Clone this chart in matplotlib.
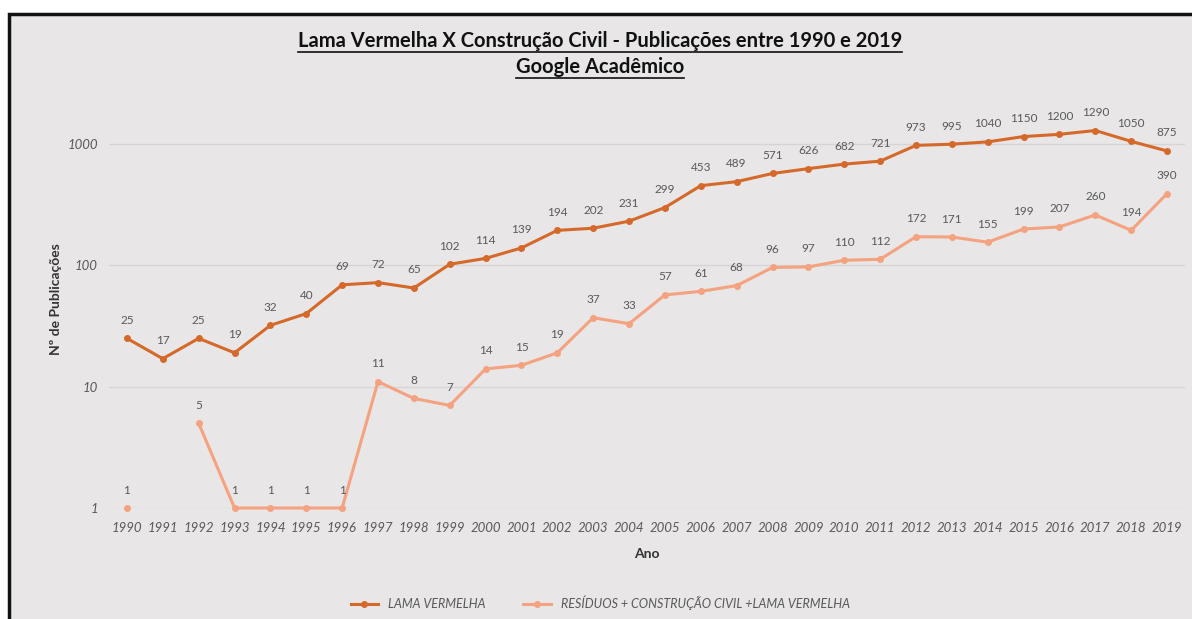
import numpy as np
import matplotlib
matplotlib.use("Agg")
import matplotlib.pyplot as plt
from matplotlib.lines import Line2D
from matplotlib.patches import Rectangle

anos = list(range(1990, 2020))
lama_vermelha = [25, 17, 25, 19, 32, 40, 69, 72, 65, 102, 114, 139, 194, 202, 231,
                 299, 453, 489, 571, 626, 682, 721, 973, 995, 1040, 1150, 1200, 1290, 1050, 875]
residuos = [1, np.nan, 5, 1, 1, 1, 1, 11, 8, 7, 14, 15, 19, 37, 33,
            57, 61, 68, 96, 97, 110, 112, 172, 171, 155, 199, 207, 260, 194, 390]
nomes = ["LAMA VERMELHA", "RESÍDUOS + CONSTRUÇÃO CIVIL +LAMA VERMELHA"]

plt.rcParams["font.family"] = ["Lato", "DejaVu Sans"]

W, H = 1192, 619
fig = plt.figure(figsize=(W / 100, H / 100), dpi=100)
fig.patch.set_facecolor("white")

# fond gris + cadre noir
fundo = "#e8e6e6"
fig.patches.append(Rectangle((9 / W, -0.1), 1.2, 1 - 14 / H + 0.1, transform=fig.transFigure,
                             facecolor=fundo, edgecolor="#111111", linewidth=2.5, zorder=-1))

ax = fig.add_axes([109 / W, 1 - 508 / H, (1185 - 109) / W, (508 - 90) / H])
ax.set_zorder(1)
ax.patch.set_alpha(0)

x = np.arange(len(anos))
cor1 = "#d4692a"
cor2 = "#f4a27f"
ax.plot(x, lama_vermelha, color=cor1, lw=2.2, marker="o", ms=4, label=nomes[0], zorder=3, clip_on=False)
ax.plot(x, residuos, color=cor2, lw=2.2, marker="o", ms=4, label=nomes[1], zorder=3, clip_on=False)

ax.set_yscale("log")
ax.set_ylim(1, 10 ** (3 + (144 - 90) / 121.5))
ax.set_xlim(-0.5, len(anos) - 0.5)
ax.set_yticks([1, 10, 100, 1000])
ax.set_yticklabels(["1", "10", "100", "1000"])
ax.yaxis.set_minor_locator(matplotlib.ticker.NullLocator())
ax.set_xticks(x)
ax.set_xticklabels([str(a) for a in anos])
for lab in ax.get_xticklabels() + ax.get_yticklabels():
    lab.set_fontstyle("italic")
    lab.set_color("#595959")
    lab.set_fontsize(9.5)
ax.tick_params(length=0, pad=10)
ax.tick_params(axis="y", pad=8)
ax.grid(axis="y", color="#d6d4d4", lw=1)
ax.set_axisbelow(True)
for s in ax.spines.values():
    s.set_visible(False)

# etiquetas de valores
for serie in (lama_vermelha, residuos):
    for xi, v in zip(x, serie):
        if np.isnan(v):
            continue
        ax.annotate(str(int(v)), (xi, v), xytext=(0, 9), textcoords="offset points",
                    ha="center", va="bottom", fontsize=8.5, color="#595959")

ax.set_xlabel("Ano", fontsize=10, fontweight="bold", color="#333333", labelpad=10)
ax.set_ylabel("Nº de Publicações", fontsize=10, fontweight="bold", color="#333333", labelpad=4)

# titulo sublinhado
t1 = fig.text(600 / W, 1 - 41 / H, "Lama Vermelha X Construção Civil - Publicações entre 1990 e 2019",
              ha="center", va="center", fontsize=14.5, fontweight="bold", color="#111111")
t2 = fig.text(600 / W, 1 - 67 / H, "Google Acadêmico",
              ha="center", va="center", fontsize=14.5, fontweight="bold", color="#111111")

leg = fig.legend(loc="center", bbox_to_anchor=(600 / W, 1 - 603 / H), ncol=2, frameon=False,
                 fontsize=9, columnspacing=3, handlelength=2.2)
for txt in leg.get_texts():
    txt.set_fontstyle("italic")
    txt.set_color("#595959")

fig.canvas.draw()
r = fig.canvas.get_renderer()
for t in (t1, t2):
    bb = t.get_window_extent(r).transformed(fig.transFigure.inverted())
    fig.lines.append(Line2D([bb.x0, bb.x1], [bb.y0 - 1 / H, bb.y0 - 1 / H],
                            transform=fig.transFigure, color="#111111", lw=1.2))

fig.savefig("out.png", dpi=100, facecolor=fig.get_facecolor())
